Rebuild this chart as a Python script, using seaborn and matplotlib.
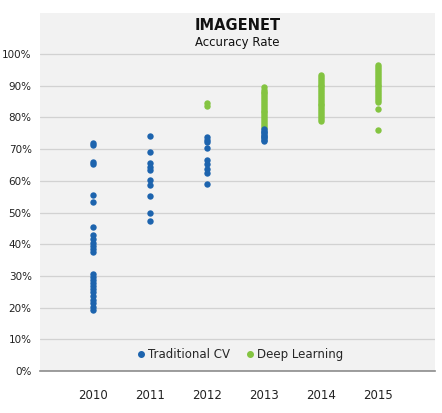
import pandas as pd
import seaborn as sns
import matplotlib.pyplot as plt
from matplotlib.ticker import PercentFormatter

# Accuracy values (%)
years = ["2010", "2011", "2012", "2013", "2014", "2015"]

trad_2010 = [72.0, 71.3, 66.0, 65.2, 55.6, 53.3, 45.5, 42.8, 41.5, 40.5, 39.5,
             38.5, 37.4, 30.6, 29.8, 28.8, 27.8, 26.8, 25.8, 24.8, 23.6, 22.5,
             21.4, 20.3, 19.4]
trad_2011 = [74.2, 69.0, 65.5, 64.4, 63.4, 60.3, 58.7, 55.2, 49.9, 47.3]
trad_2012 = [73.9, 73.0, 72.2, 70.3, 66.6, 65.3, 63.9, 62.4, 58.9]
trad_2013 = [72.6, 73.0, 73.4, 73.8, 74.2, 74.6, 75.0, 75.4, 75.8, 76.3]

deep_2012 = [84.6, 83.6]
deep_2013 = [76.8, 77.4, 78.0, 78.6, 79.2, 79.8, 80.4, 81.0, 81.6, 82.2, 82.8,
             83.4, 84.0, 84.6, 85.2, 85.8, 86.4, 87.0, 87.6, 88.2, 88.8, 89.5]
deep_2014 = [79.0, 79.6, 80.2, 80.8, 81.4, 82.0, 82.6, 83.2, 83.8, 84.4, 85.0,
             85.6, 86.2, 86.8, 87.4, 88.0, 88.6, 89.2, 89.8, 90.4, 91.0, 91.6,
             92.2, 92.8, 93.5]
deep_2015 = [76.0, 82.6, 85.0, 85.6, 86.2, 86.8, 87.4, 88.0, 88.6, 89.2, 89.8,
             90.4, 91.0, 91.6, 92.2, 92.8, 93.4, 94.0, 94.6, 95.2, 95.8, 96.5]

trad = {"2010": trad_2010, "2011": trad_2011, "2012": trad_2012, "2013": trad_2013}
deep = {"2012": deep_2012, "2013": deep_2013, "2014": deep_2014, "2015": deep_2015}

rows = []
for yr, vals in trad.items():
    rows += [(yr, v, "Traditional CV") for v in vals]
for yr, vals in deep.items():
    rows += [(yr, v, "Deep Learning") for v in vals]
df = pd.DataFrame(rows, columns=["year", "accuracy", "method"])

blue = "#1d64ae"
green = "#84c441"

sns.set_style("white")
plt.rcParams["font.family"] = ["DejaVu Sans"]

fig = plt.figure(figsize=(4.42, 4.13), dpi=100)
ax = fig.add_axes([0.0905, 0.1017, 0.8935, 0.867])
ax.set_facecolor("#f2f2f2")

# deep learning first so the blue dots sit on top in 2013
sns.stripplot(data=df[df.method == "Deep Learning"], x="year", y="accuracy",
              order=years, color=green, jitter=False, size=4.6, linewidth=0,
              ax=ax, zorder=3)
sns.stripplot(data=df[df.method == "Traditional CV"], x="year", y="accuracy",
              order=years, color=blue, jitter=False, size=4.6, linewidth=0,
              ax=ax, zorder=4)

ax.set_xlim(-0.93, 6.0)
ax.set_ylim(0, 113)
ax.set_yticks(range(0, 101, 10))
ax.yaxis.set_major_formatter(PercentFormatter(decimals=0))
ax.grid(axis="y", color="#d2d2d2", linewidth=0.9)
ax.set_axisbelow(True)
for s in ["top", "right", "left"]:
    ax.spines[s].set_visible(False)
ax.spines["bottom"].set_color("#8c8c8c")
ax.spines["bottom"].set_linewidth(1.2)
ax.tick_params(axis="x", length=0, labelsize=8.5, colors="#222222", pad=13)
ax.tick_params(axis="y", length=0, labelsize=7.5, colors="#222222", pad=6)
ax.set_xlabel("")
ax.set_ylabel("")

ax.text(0.5, 0.985, "IMAGENET", transform=ax.transAxes, ha="center",
        va="top", fontsize=10.5, fontweight="bold", color="#111111")
ax.text(0.5, 0.935, "Accuracy Rate", transform=ax.transAxes, ha="center",
        va="top", fontsize=8.5, color="#111111")

handles = [
    plt.Line2D([], [], marker="o", linestyle="", color=blue, markersize=4),
    plt.Line2D([], [], marker="o", linestyle="", color=green, markersize=4),
]
ax.legend(handles, ["Traditional CV", "Deep Learning"], loc="center",
          bbox_to_anchor=(0.505, 0.047), ncol=2, frameon=False, fontsize=8.5,
          handletextpad=0.1, columnspacing=1.2, handlelength=1.0)

fig.savefig("out.png", dpi=100, facecolor="white")
